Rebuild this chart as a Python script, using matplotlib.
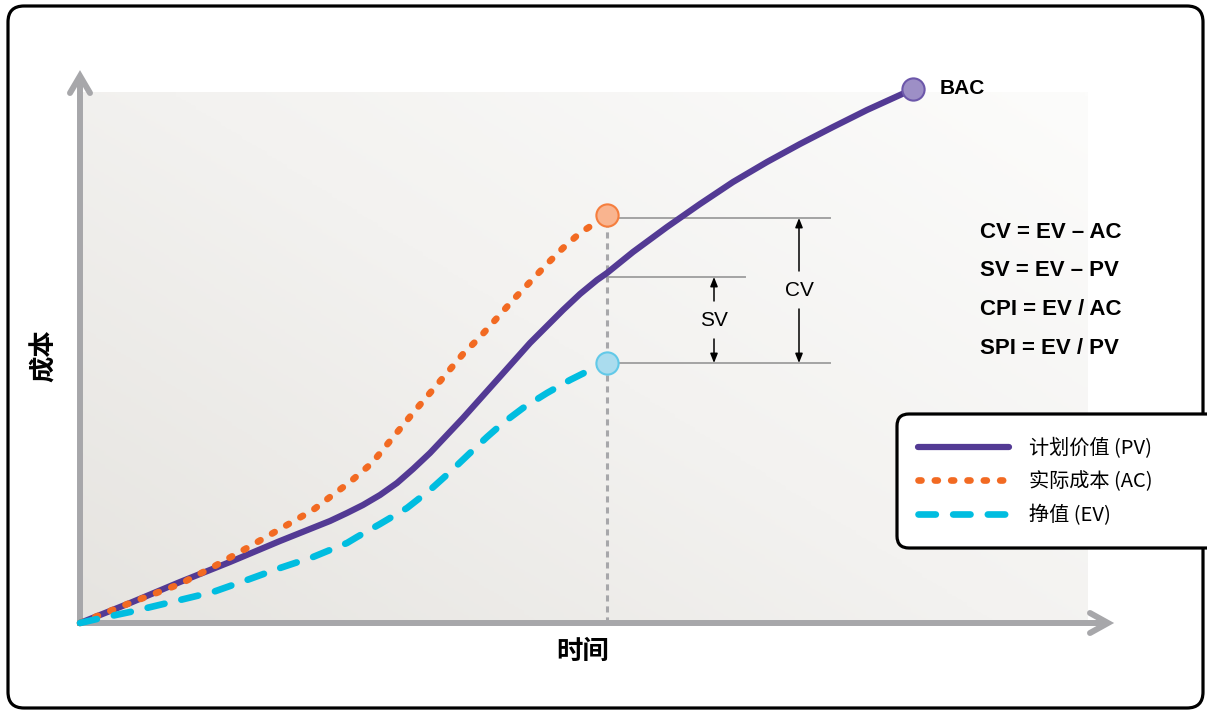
import numpy as np
import matplotlib.pyplot as plt
from matplotlib.patches import FancyBboxPatch
from matplotlib.colors import LinearSegmentedColormap

# ---- data (time, cost) ----
pv_t = [0, 0.5, 1.0, 1.5, 2.0, 2.5, 2.67, 2.83, 3.0, 3.17, 3.33, 3.5, 3.83, 4.17, 4.5, 4.83, 5.0, 5.17, 5.27,
        5.53, 5.87, 6.2, 6.53, 6.87, 7.2, 7.53, 7.87, 8.2, 8.33]
pv_v = [0, 0.20, 0.41, 0.61, 0.82, 1.02, 1.10, 1.18, 1.28, 1.40, 1.54, 1.70, 2.05, 2.43, 2.80, 3.13, 3.29, 3.43, 3.50,
        3.71, 3.96, 4.19, 4.41, 4.61, 4.79, 4.96, 5.13, 5.28, 5.34]

ac_t = [0, 0.5, 1.0, 1.33, 1.67, 2.0, 2.33, 2.5, 2.7, 2.92, 3.1, 3.33, 3.5, 3.67, 3.83,
        4.0, 4.17, 4.33, 4.5, 4.67, 4.83, 5.0, 5.17, 5.27]
ac_v = [0, 0.20, 0.39, 0.56, 0.75, 0.94, 1.13, 1.26, 1.41, 1.60, 1.82, 2.10, 2.30, 2.50, 2.69,
        2.86, 3.05, 3.23, 3.41, 3.59, 3.75, 3.90, 4.01, 4.08]

ev_t = [0, 0.17, 0.5, 1.0, 1.33, 1.67, 2.0, 2.33, 2.67, 2.77, 3.0, 3.27, 3.5, 3.7, 3.9,
        4.07, 4.23, 4.43, 4.67, 4.9, 5.1, 5.27]
ev_v = [0, 0.04, 0.11, 0.23, 0.31, 0.43, 0.55, 0.66, 0.80, 0.86, 0.99, 1.15, 1.33, 1.51, 1.70,
        1.86, 2.00, 2.15, 2.30, 2.43, 2.53, 2.60]

labels = ['计划价值 (PV)', '实际成本 (AC)', '挣值 (EV)']
formulas = ['CV = EV – AC', 'SV = EV – PV', 'CPI = EV / AC', 'SPI = EV / PV']

now_t = ac_t[-1]
t_end = 10.08
v_top = 5.31

PV_C, AC_C, EV_C = '#533a94', '#f26a22', '#00bde0'
GRAY = '#a7a7aa'
cjk = ['Noto Sans CJK SC', 'DejaVu Sans']
narrow = ['Liberation Sans Narrow', 'Liberation Sans', 'DejaVu Sans']

fig = plt.figure(figsize=(12.07, 7.11), dpi=100)
ax = fig.add_axes([0, 0, 1, 1])
ax.set_xlim(-0.80, 11.27)
ax.set_ylim(-0.88, 6.23)
ax.axis('off')

# outer frame
ax.add_patch(FancyBboxPatch((-0.72, -0.85), 11.95, 7.02, boxstyle='round,pad=0,rounding_size=0.16',
                            fc='white', ec='black', lw=2.3, zorder=0))

# gradient background of the plot area
gx, gy = np.meshgrid(np.linspace(0, 1, 200), np.linspace(0, 1, 200))
grad = 0.55 * gx + 0.45 * gy
cmap = LinearSegmentedColormap.from_list('bg', ['#e6e4e0', '#f3f2f0', '#fcfcfb'])
ax.imshow(grad, extent=[0, t_end, 0, v_top], origin='lower', cmap=cmap, aspect='auto', zorder=1)

# axes arrows
ax.plot([0, 0], [-0.02, 5.45], color=GRAY, lw=4.3, solid_capstyle='butt', zorder=2)
ax.plot([-0.10, 0, 0.10], [5.30, 5.47, 5.30], color=GRAY, lw=4.3, solid_capstyle='round',
        solid_joinstyle='miter', zorder=2)
ax.plot([-0.03, 10.26], [0, 0], color=GRAY, lw=4.3, solid_capstyle='butt', zorder=2)
ax.plot([10.10, 10.28, 10.10], [0.10, 0, -0.10], color=GRAY, lw=4.3, solid_capstyle='round',
        solid_joinstyle='miter', zorder=2)

# status date line
ax.plot([now_t, now_t], [0, ac_v[-1]], color=GRAY, lw=2.2, ls=(0, (2, 1.6)), zorder=3)

# reference lines
pv_now = np.interp(now_t, pv_t, pv_v)
ref_pv = pv_now - 0.04
ax.plot([now_t, 7.50], [ac_v[-1] - 0.03, ac_v[-1] - 0.03], color='#a3a3a3', lw=1.4, zorder=3)
ax.plot([now_t, 6.65], [ref_pv, ref_pv], color='#a3a3a3', lw=1.4, zorder=3)
ax.plot([now_t, 7.50], [ev_v[-1], ev_v[-1]], color='#a3a3a3', lw=1.4, zorder=3)

# curves
h_pv, = ax.plot(pv_t, pv_v, color=PV_C, lw=4.5, solid_capstyle='round', solid_joinstyle='round', zorder=4)
h_ac, = ax.plot(ac_t, ac_v, color=AC_C, lw=4.8, ls=(0, (0.45, 2.0)), dash_capstyle='round', zorder=5)
h_ev, = ax.plot(ev_t, ev_v, color=EV_C, lw=4.8, ls=(0, (2.6, 2.6)), dash_capstyle='round', zorder=6)

# end markers
ax.plot(pv_t[-1], pv_v[-1], 'o', ms=16, mfc='#9d8fc6', mec='#6c57aa', mew=1.5, zorder=7)
ax.plot(ac_t[-1], ac_v[-1], 'o', ms=16, mfc='#f9b48f', mec='#f57e3e', mew=1.5, zorder=7)
ax.plot(ev_t[-1], ev_v[-1], 'o', ms=16, mfc='#aadcee', mec='#62c9e8', mew=1.5, zorder=7)
ax.text(pv_t[-1] + 0.27, pv_v[-1], 'BAC', fontsize=15, fontweight='bold', family=narrow[1:],
        va='center', ha='left', zorder=8)

# variance arrows
arr = dict(arrowstyle='-|>,head_length=0.55,head_width=0.22', color='black', lw=1.1, shrinkA=0, shrinkB=0)
sv_x, sv_mid = 6.34, 3.03
ax.annotate('', xy=(sv_x, ref_pv), xytext=(sv_x, sv_mid + 0.19), arrowprops=arr, zorder=8)
ax.annotate('', xy=(sv_x, ev_v[-1]), xytext=(sv_x, sv_mid - 0.19), arrowprops=arr, zorder=8)
ax.text(sv_x, sv_mid, 'SV', fontsize=15, family=narrow, ha='center', va='center', zorder=8)
cv_x, cv_mid = 7.19, 3.33
ax.annotate('', xy=(cv_x, ac_v[-1] - 0.03), xytext=(cv_x, cv_mid + 0.19), arrowprops=arr, zorder=8)
ax.annotate('', xy=(cv_x, ev_v[-1]), xytext=(cv_x, cv_mid - 0.19), arrowprops=arr, zorder=8)
ax.text(cv_x, cv_mid, 'CV', fontsize=15, family=narrow, ha='center', va='center', zorder=8)

# formulas
for i, f in enumerate(formulas):
    ax.text(9.0, 3.91 - i * 0.387, f, fontsize=16, fontweight='bold', family=narrow,
            ha='left', va='center', zorder=8)

# axis titles
ax.text(5.03, -0.28, '时间', fontsize=19, fontweight='bold', family=cjk,
        ha='center', va='center')
ax.text(-0.36, 2.67, '成本', fontsize=19, fontweight='bold', family=cjk, rotation=90,
        ha='center', va='center')

# legend
ax.add_patch(FancyBboxPatch((8.17, 0.75), 3.3, 1.34, boxstyle='round,pad=0,rounding_size=0.12',
                            fc='white', ec='black', lw=2.3, zorder=8))
leg = ax.legend([h_pv, h_ac, h_ev], labels, loc='center left', bbox_to_anchor=(8.28, 1.41),
                bbox_transform=ax.transData, frameon=False, prop={'family': cjk, 'size': 14.5},
                handlelength=4.5, handletextpad=1.0, labelspacing=0.63, borderpad=0)
leg.set_zorder(9)

fig.savefig('out.png', dpi=100)
